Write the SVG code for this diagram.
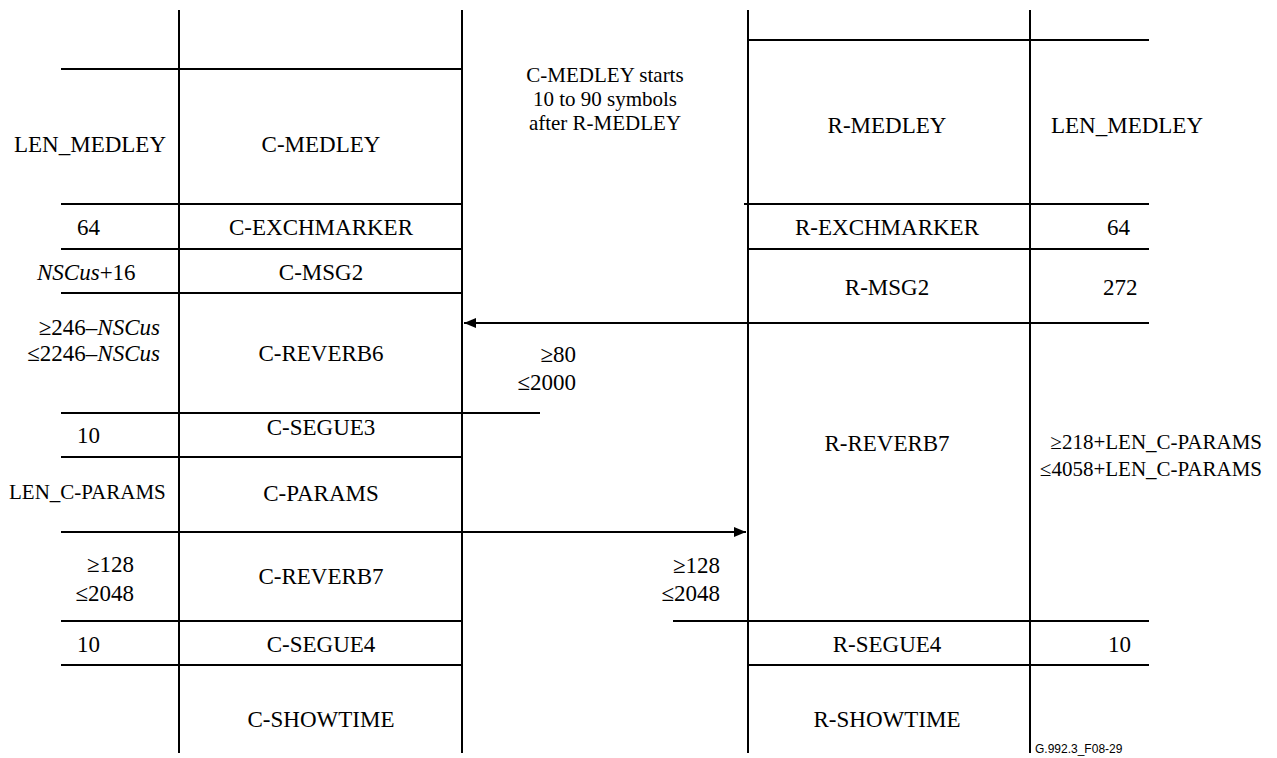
<svg xmlns="http://www.w3.org/2000/svg" width="1277" height="758" viewBox="0 0 1277 758">
<style>
.l{stroke:#000;stroke-width:2;fill:none}
.c{text-anchor:middle}
.e{text-anchor:end}
.i{font-style:italic}
</style>
<defs>
<marker id="ah" viewBox="0 0 12 10" refX="12" refY="5" markerWidth="12" markerHeight="10" markerUnits="userSpaceOnUse" orient="auto">
<path d="M0,0 L12,5 L0,10 Z" fill="#000"/>
</marker>
</defs>
<rect width="1277" height="758" fill="#fff"/>
<g id="connectors">
<line class="l" x1="179" y1="10" x2="179" y2="753"/>
<line class="l" x1="462" y1="10" x2="462" y2="753"/>
<line class="l" x1="748" y1="10" x2="748" y2="753"/>
<line class="l" x1="1030" y1="10" x2="1030" y2="753"/>
<line class="l" x1="61" y1="69" x2="462" y2="69"/>
<line class="l" x1="61" y1="204" x2="462" y2="204"/>
<line class="l" x1="61" y1="249" x2="462" y2="249"/>
<line class="l" x1="61" y1="293" x2="462" y2="293"/>
<line class="l" x1="61" y1="413" x2="540" y2="413"/>
<line class="l" x1="61" y1="457" x2="462" y2="457"/>
<line class="l" x1="61" y1="621" x2="462" y2="621"/>
<line class="l" x1="61" y1="665" x2="462" y2="665"/>
<line class="l" x1="748" y1="40" x2="1149" y2="40"/>
<line class="l" x1="744" y1="204" x2="1149" y2="204"/>
<line class="l" x1="748" y1="249" x2="1149" y2="249"/>
<line class="l" x1="673" y1="621" x2="1149" y2="621"/>
<line class="l" x1="748" y1="665" x2="1149" y2="665"/>
<line id="arrow-r-to-c" class="l" x1="1149" y1="323" x2="464" y2="323" marker-end="url(#ah)"/>
<line id="arrow-c-to-r" class="l" x1="61" y1="532" x2="746" y2="532" marker-end="url(#ah)"/>
</g>
<g font-family="'Liberation Serif', 'Times New Roman', serif" font-size="23" fill="#000">
<g id="c-len">
<text x="14" y="152">LEN_MEDLEY</text>
<text x="77" y="235">64</text>
<text x="37" y="280"><tspan class="i">NSCus</tspan>+16</text>
<text class="e" x="160" y="335">≥246–<tspan class="i">NSCus</tspan></text>
<text class="e" x="160" y="361">≤2246–<tspan class="i">NSCus</tspan></text>
<text x="77" y="443">10</text>
<text font-size="21" x="9" y="499">LEN_C-PARAMS</text>
<text class="e" x="134" y="572">≥128</text>
<text class="e" x="134" y="601">≤2048</text>
<text x="77" y="652">10</text>
</g>
<g id="c-signals">
<text class="c" x="321" y="152">C-MEDLEY</text>
<text class="c" x="321" y="235">C-EXCHMARKER</text>
<text class="c" x="321" y="280">C-MSG2</text>
<text class="c" x="321" y="361">C-REVERB6</text>
<text class="c" x="321" y="435">C-SEGUE3</text>
<text class="c" x="321" y="501">C-PARAMS</text>
<text class="c" x="321" y="584">C-REVERB7</text>
<text class="c" x="321" y="652">C-SEGUE4</text>
<text class="c" x="321" y="727">C-SHOWTIME</text>
</g>
<g id="middle-notes">
<g font-size="21">
<text class="c" x="605" y="82">C-MEDLEY starts</text>
<text class="c" x="605" y="106">10 to 90 symbols</text>
<text class="c" x="605" y="130">after R-MEDLEY</text>
</g>
<text class="e" x="576" y="362">≥80</text>
<text class="e" x="576" y="390">≤2000</text>
<text class="e" x="720" y="573">≥128</text>
<text class="e" x="720" y="601">≤2048</text>
</g>
<g id="r-signals">
<text class="c" x="887" y="133">R-MEDLEY</text>
<text class="c" x="887" y="235">R-EXCHMARKER</text>
<text class="c" x="887" y="295">R-MSG2</text>
<text class="c" x="887" y="451">R-REVERB7</text>
<text class="c" x="887" y="652">R-SEGUE4</text>
<text class="c" x="887" y="727">R-SHOWTIME</text>
</g>
<g id="r-len">
<text x="1051" y="133">LEN_MEDLEY</text>
<text x="1107" y="235">64</text>
<text x="1103" y="295">272</text>
<text class="e" font-size="21" x="1262" y="449">≥218+LEN_C-PARAMS</text>
<text class="e" font-size="21" x="1262" y="476">≤4058+LEN_C-PARAMS</text>
<text x="1108" y="652">10</text>
</g>
<g id="figure-id">
<text font-family="'Liberation Sans', Arial, sans-serif" font-size="12" x="1035" y="753">G.992.3_F08-29</text>
</g>
</g>
</svg>
